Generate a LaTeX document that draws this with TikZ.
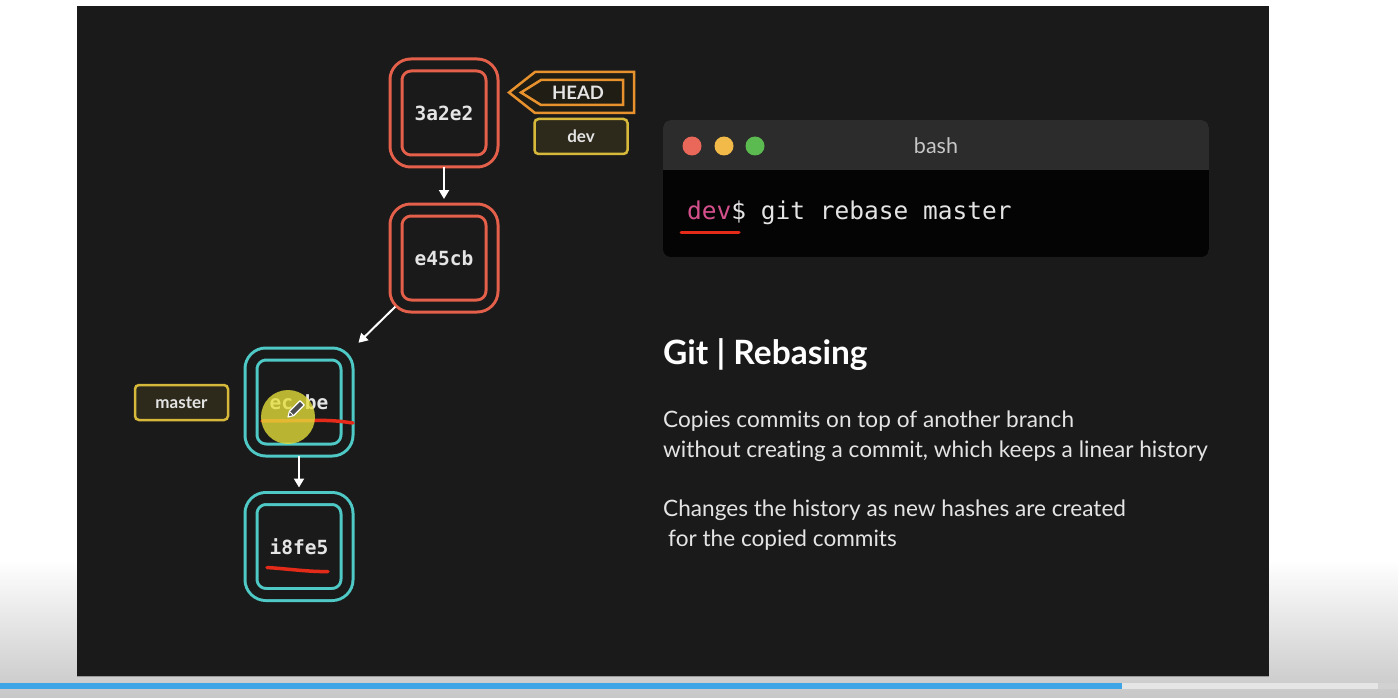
\documentclass[tikz,border=0pt]{standalone}
\usepackage{fontspec}
\setmainfont{Lato}[Ligatures=NoCommon]
\newfontfamily\monofont{DejaVu Sans Mono}
\usetikzlibrary{arrows.meta}
\definecolor{slidebg}{HTML}{1A1A1A}
\definecolor{commitred}{HTML}{E5604A}
\definecolor{commitcyan}{HTML}{4FC9C6}
\definecolor{headorange}{HTML}{E8922E}
\definecolor{tagyellow}{HTML}{D6B83A}
\definecolor{tagfill}{HTML}{2D2A1C}
\definecolor{txt}{HTML}{E4E4E4}
\definecolor{titlebar}{HTML}{2C2C2C}
\definecolor{termbody}{HTML}{040404}
\definecolor{prompt}{HTML}{D4508C}
\definecolor{marker}{HTML}{E42A18}
\definecolor{hilite}{HTML}{E6E03A}
\definecolor{barblue}{HTML}{3EA6E6}
\definecolor{tlred}{HTML}{EA685A}
\definecolor{tlyellow}{HTML}{F2BA48}
\definecolor{tlgreen}{HTML}{5CBB50}
\begin{document}
\begin{tikzpicture}[x=1pt,y=-1pt,
  commit/.style={draw=#1, double=slidebg, line width=3pt, double distance=9pt,
    rounded corners=15pt, minimum width=96pt, minimum height=96pt,
    inner sep=0pt, outer sep=0pt, text=txt,
    font=\monofont\bfseries\fontsize{19.5}{22}\selectfont},
  tagbox/.style={draw=tagyellow, fill=tagfill, line width=2.5pt, rounded corners=4pt,
    minimum width=93pt, minimum height=35pt, inner sep=0pt, text=txt,
    font=\bfseries\fontsize{17}{20}\selectfont},
  conn/.style={draw=white, line width=2pt, -{Triangle[length=9pt,width=10pt]}},
  body/.style={anchor=base west, text=txt, inner sep=0pt, font=\fontsize{22.6}{26}\selectfont},
  marks/.style={draw=marker, line width=3.5pt, line cap=round}
]
\useasboundingbox (0,0) rectangle (1398,698);
% page background
\fill[white] (0,0) rectangle (1398,698);
\shade[top color=white, bottom color=black!22] (0,560) rectangle (1398,698);
% slide
\fill[slidebg] (77,6) rectangle (1269,676);
\draw[black!40, line width=1pt] (77,676.5) -- (1269,676.5);
% progress bar
\fill[barblue] (0,683) rectangle (1122,689);
\fill[black!10] (1122,683) rectangle (1378,689);
\fill[black!18] (1378,683) rectangle (1398,689);

% commits
\node[commit=commitred] (c3a) at (444,113) {3a2e2};
\node[commit=commitred] (ce4) at (444,258) {e45cb};
\node[commit=commitcyan] (cec) at (299,402) {ec\phantom{0}be};
\node[commit=commitcyan] (ci8) at (299,546.5) {i8fe5};

\draw[conn, shorten <=6pt, shorten >=11pt] (c3a) -- (ce4);
\draw[conn, shorten <=1pt, shorten >=16pt] (ce4.south west) -- (cec.north east);
\draw[conn, shorten <=6pt, shorten >=11pt] (cec) -- (ci8);

% HEAD pointer
\fill[tagfill!70!black] (509,92.5) -- (535,72) -- (634,72) -- (634,113) -- (535,113) -- cycle;
\draw[headorange, line width=2.5pt, line join=miter] (509,92.5) -- (535,72) -- (634,72) -- (634,113) -- (535,113) -- cycle;
\draw[headorange, line width=2.5pt, line join=miter] (521,92.5) -- (541,80) -- (623,80) -- (623,105) -- (541,105) -- cycle;
\node[text=txt, font=\bfseries\fontsize{18.5}{20}\selectfont, inner sep=0pt] (head) at (578,92.5) {HEAD};
\node[tagbox] (dev) at (581,136.5) {dev};
\node[tagbox] (master) at (181.5,402.5) {master};

% annotation marks
\draw[marks] (262,421) -- (315,420.5) .. controls (335,420) and (345,422) .. (353,423);
\fill[hilite, opacity=0.78] (288,417) circle (27);
\draw[marks] (267,567.5) .. controls (290,569) and (310,572) .. (328,571.5);
% pencil cursor
\filldraw[fill=black!70, draw=white, line width=1.2pt, line join=round]
  (288,417) -- (293.6,415.6) -- (304.2,405) -- (300,400.8) -- (289.4,411.4) -- cycle;
\draw[white, line width=1pt] (293.6,415.6) -- (289.4,411.4);

% terminal window
\begin{scope}
  \clip[rounded corners=8pt] (663,120) rectangle (1209,257);
  \fill[termbody] (663,120) rectangle (1209,257);
  \fill[titlebar] (663,120) rectangle (1209,170);
\end{scope}
\fill[tlred] (692,146) circle (9.5);
\fill[tlyellow] (724,146) circle (9.5);
\fill[tlgreen] (755,146) circle (9.5);
\node[text=black!22, font=\fontsize{21.5}{24}\selectfont, inner sep=0pt] (bash) at (936,146) {bash};
\node[anchor=base west, inner sep=0pt, text=txt, font=\monofont\fontsize{24.5}{28}\selectfont] (cmd) at (687,219)
  {\textcolor{prompt}{dev}\$ git rebase master};
\draw[marks, line width=3pt] (681,232) -- (739,232);

% text
\node[anchor=base west, inner sep=0pt, text=white, font=\bfseries\fontsize{33.5}{36}\selectfont] (title) at (663,364) {Git | Rebasing};
\node[body] (l1) at (663,427) {Copies commits on top of another branch};
\node[body] (l2) at (663,457) {without creating a commit, which keeps a linear history};
\node[body] (l3) at (663,516) {Changes the history as new hashes are created};
\node[body] (l4) at (668,546) {for the copied commits};
\end{tikzpicture}
\end{document}
